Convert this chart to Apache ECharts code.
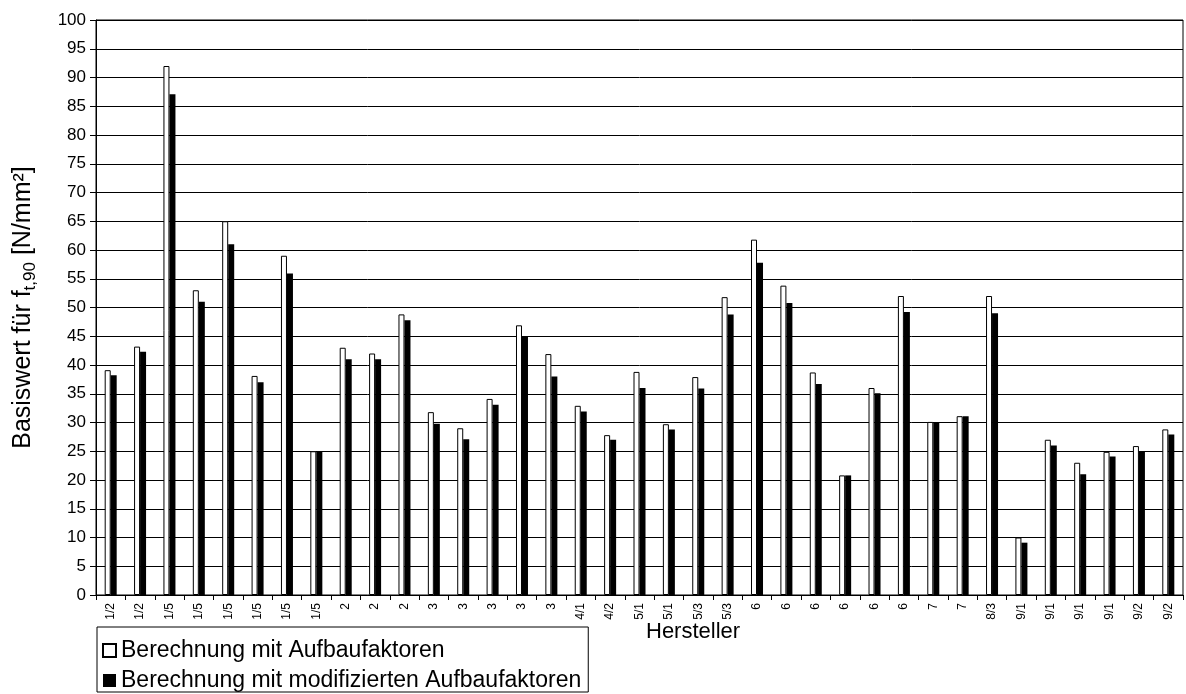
<!DOCTYPE html>
<html>
<head>
<meta charset="utf-8">
<script src="https://cdn.jsdelivr.net/npm/echarts@6/dist/echarts.min.js"></script>
<style>
  html, body { margin: 0; padding: 0; background: #fff; }
  #chart { width: 1186px; height: 694px; }
</style>
</head>
<body>
<div id="chart"></div>
<script>
// Manufacturer / series code for each tested product
const categories = ['1/2','1/2','1/5','1/5','1/5','1/5','1/5','1/5','2','2','2','3','3','3','3','3',
  '4/1','4/2','5/1','5/1','5/3','5/3','6','6','6','6','6','6','7','7','8/3','9/1','9/1','9/1','9/1','9/2','9/2'];

// Base value f_t,90 in N/mm² computed with the build-up factors
const mitAufbaufaktoren = [39.1, 43.2, 92.0, 53.0, 65.0, 38.1, 59.0, 25.0, 43.0, 42.0, 48.8, 31.8, 29.0, 34.1, 46.9, 41.9,
  32.9, 27.8, 38.8, 29.7, 37.9, 51.8, 61.8, 53.8, 38.7, 20.8, 36.0, 52.0, 30.1, 31.1, 52.0, 10.0, 27.0, 23.0, 24.9, 25.9, 28.8];

// Base value computed with the modified build-up factors
const mitModifiziertenFaktoren = [38.2, 42.3, 87.1, 51.0, 61.0, 37.0, 55.9, 25.0, 41.0, 41.0, 47.8, 29.8, 27.1, 33.1, 45.0, 38.0,
  31.9, 27.0, 36.0, 28.8, 35.9, 48.8, 57.8, 50.8, 36.7, 20.8, 35.1, 49.2, 30.1, 31.1, 49.0, 9.1, 26.0, 21.0, 24.1, 25.0, 27.9];

const seriesNames = ['Berechnung mit Aufbaufaktoren', 'Berechnung mit modifizierten Aufbaufaktoren'];
const yTicks = { min: 0, max: 100, step: 5 };

const FONT = "'Liberation Sans', Arial, Helvetica, sans-serif";

const chart = echarts.init(document.getElementById('chart'), null, { renderer: 'canvas' });

chart.setOption({
  animation: false,
  backgroundColor: '#fff',
  textStyle: { fontFamily: FONT, color: '#000' },
  grid: {
    left: 96, right: 3, top: 20, bottom: 99,
    show: true, borderColor: '#000', borderWidth: 1, backgroundColor: 'transparent'
  },
  legend: {
    orient: 'vertical',
    left: 97, top: 627,
    padding: [12, 7, 0, 5],
    itemGap: 7,
    itemWidth: 13, itemHeight: 13,
    icon: 'rect',
    borderColor: '#000', borderWidth: 1,
    textStyle: { fontFamily: FONT, fontSize: 23, color: '#000' },
    data: seriesNames
  },
  xAxis: {
    type: 'category',
    data: categories,
    boundaryGap: true,
    axisLine: { show: true, lineStyle: { color: '#000', width: 1 } },
    axisTick: { show: true, length: 5, inside: false, lineStyle: { color: '#000' } },
    axisLabel: { interval: 0, rotate: 90, fontSize: 12, margin: 8, color: '#000', fontFamily: FONT },
    splitLine: { show: false }
  },
  yAxis: {
    type: 'value',
    min: yTicks.min, max: yTicks.max, interval: yTicks.step,
    name: 'Basiswert für f{s|t,90} [N/mm²]',
    nameLocation: 'middle',
    nameRotate: 90,
    nameGap: 57,
    nameTextStyle: {
      fontFamily: FONT, fontSize: 25, color: '#000', lineHeight: 31,
      rich: { s: { fontFamily: FONT, fontSize: 17, color: '#000', verticalAlign: 'bottom', lineHeight: 17 } }
    },
    axisLine: { show: true, lineStyle: { color: '#000', width: 1 } },
    axisTick: { show: true, length: 6, inside: false, lineStyle: { color: '#000' } },
    axisLabel: { fontSize: 17, margin: 10, color: '#000', fontFamily: FONT },
    splitLine: { show: true, lineStyle: { color: '#000', width: 1 } }
  },
  graphic: [{
    type: 'text',
    left: 646, top: 621,
    style: { text: 'Hersteller', font: '22px ' + FONT, fill: '#000' }
  }],
  series: [
    {
      name: seriesNames[0],
      type: 'bar',
      data: mitAufbaufaktoren,
      barWidth: 6,
      barGap: '0%',
      itemStyle: { color: '#fff', borderColor: '#000', borderWidth: 1 }
    },
    {
      name: seriesNames[1],
      type: 'bar',
      data: mitModifiziertenFaktoren,
      barWidth: 6,
      barGap: '0%',
      itemStyle: { color: '#000', borderColor: '#000', borderWidth: 0 }
    }
  ]
});
</script>
</body>
</html>
